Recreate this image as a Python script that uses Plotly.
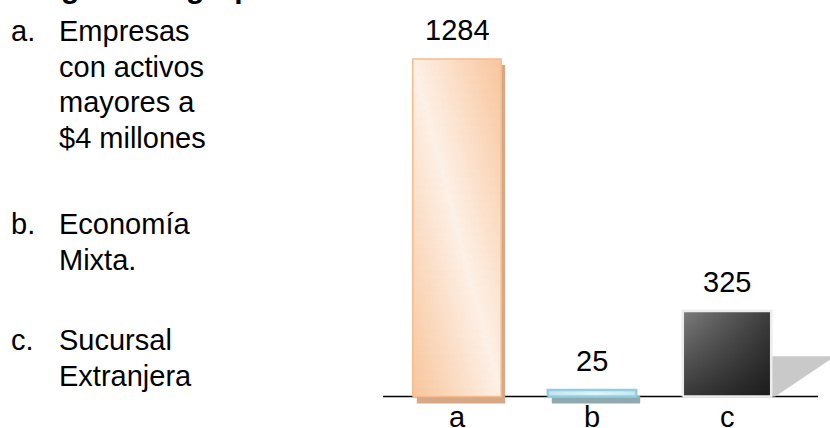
import plotly.graph_objects as go

# ---- data -------------------------------------------------------------
categories = ["a", "b", "c"]
values = [1284, 25, 325]
descriptions = [
    ["Empresas", "con activos", "mayores a", "$4 millones"],
    ["Economía", "Mixta."],
    ["Sucursal", "Extranjera"],
]
title_text = "Categoría de grupo"

# ---- geometry / style -------------------------------------------------
W, H = 830, 428
FONT = "Arial, 'Liberation Sans', Helvetica, sans-serif"
FS = 29

X0_PX = 457          # centre of first category (px from left)
STEP_PX = 135        # spacing between categories (px)
BASE_PX = 396.5      # baseline position (px from top)
TOP_PX = 59          # top of the tallest bar (px from top)
PX_PER_UNIT = (BASE_PX - TOP_PX) / max(values)
BAR_W = 0.655


def dx(px):
    return px / STEP_PX


def dy(px):
    return px / PX_PER_UNIT


def rect(xc, y0, y1, w=BAR_W):
    l, r = xc - w / 2, xc + w / 2
    return [l, r, r, l, l], [y0, y0, y1, y1, y0]


fig = go.Figure()

# drop shadows for bars a and b
shadow_colors = {"a": "#d5a886", "b": "#8fa9b1"}
for i, (cat, v) in enumerate(zip(categories, values)):
    if cat in shadow_colors:
        xs, ys = rect(i + dx(4), -dy(7), v - dy(6))
        fig.add_trace(go.Scatter(x=xs, y=ys, mode="lines", fill="toself",
                                 fillcolor=shadow_colors[cat],
                                 line=dict(width=0), hoverinfo="skip"))

# perspective shadow to the right of bar c
ic = categories.index("c")
vc = values[ic]
rc = ic + BAR_W / 2
fig.add_trace(go.Scatter(
    x=[rc, rc, rc + 0.72 * BAR_W, rc + dx(4), rc],
    y=[0, 0.47 * vc, 0.47 * vc, 0, 0],
    mode="lines", fill="toself", fillcolor="#c9c9c9",
    line=dict(width=0), hoverinfo="skip"))

# bar a: peach body with a pale diagonal sheen, built from thin slices
ia = categories.index("a")
va = values[ia]
n_slices = 40
pale, peach = "#fdf0e6", "#f8c398"
for k in range(n_slices):
    t = (k + 0.5) / n_slices
    y0 = va * k / n_slices
    y1 = min(va, va * (k + 1) / n_slices + dy(1))
    # pale band drifts from right (bottom) to left (top)
    xp = ia - BAR_W / 2 + BAR_W * (1 - t)
    xs, ys = rect(ia, y0, y1)
    fig.add_trace(go.Scatter(
        x=xs, y=ys, mode="lines", fill="toself", line=dict(width=0),
        fillgradient=dict(type="horizontal",
                          colorscale=[[0, peach], [0.5, pale], [1, peach]],
                          start=xp - 1.05 * BAR_W, stop=xp + 1.05 * BAR_W),
        hoverinfo="skip"))
xs, ys = rect(ia, 0, va)
fig.add_trace(go.Scatter(x=xs, y=ys, mode="lines",
                         line=dict(color="#f6bb8e", width=1.5), hoverinfo="skip"))

# bar b: light blue glass
ib = categories.index("b")
vb = values[ib]
xs, ys = rect(ib, 0, vb)
fig.add_trace(go.Scatter(
    x=xs, y=ys, mode="lines", fill="toself",
    fillgradient=dict(type="horizontal",
                      colorscale=[[0, "#c3e4ee"], [0.55, "#e2f3f8"], [1, "#c6e6ef"]],
                      start=ib - BAR_W / 2, stop=ib + BAR_W / 2),
    line=dict(color="#8fcfe0", width=2.5), hoverinfo="skip"))

# bar c: dark graphite, lighter top-left to darker bottom-right
xs, ys = rect(ic, 0, vc)
fig.add_trace(go.Scatter(
    x=xs, y=ys, mode="lines", fill="toself",
    fillgradient=dict(type="horizontal",
                      colorscale=[[0, "#7c7c7c"], [1, "#3c3c3c"]],
                      start=ic - BAR_W / 2, stop=ic + BAR_W / 2),
    line=dict(width=0), hoverinfo="skip"))
fig.add_trace(go.Scatter(
    x=xs, y=ys, mode="lines", fill="toself",
    fillgradient=dict(type="vertical",
                      colorscale=[[0, "rgba(0,0,0,0.55)"], [1, "rgba(0,0,0,0)"]],
                      start=0, stop=vc),
    line=dict(color="#ececec", width=2.5), hoverinfo="skip"))

# baseline
fig.add_shape(type="line", layer="below",
              x0=dx(383 - X0_PX), x1=dx(818 - X0_PX), y0=0, y1=0,
              line=dict(color="black", width=1.5))

annotations = []
# value labels above bars
for i, v in enumerate(values):
    annotations.append(dict(x=i, y=v, xref="x", yref="y", text=str(v),
                            showarrow=False, yanchor="middle", yshift=29,
                            font=dict(size=FS, color="black", family=FONT)))
# category labels under the baseline
for i, cat in enumerate(categories):
    annotations.append(dict(x=i, y=0, xref="x", yref="y", text=cat,
                            showarrow=False, yanchor="middle", yshift=-20,
                            font=dict(size=FS, color="black", family=FONT)))

# explanatory list on the left
block_tops = [31, 224, 340]
LINE_GAP = 35.5
for cat, lines, ytop in zip(categories, descriptions, block_tops):
    annotations.append(dict(x=9 / W, y=1 - ytop / H, xref="paper", yref="paper",
                            text=cat + ".", showarrow=False, xanchor="left",
                            yanchor="middle",
                            font=dict(size=FS, color="black", family=FONT)))
    for j, line in enumerate(lines):
        annotations.append(dict(x=57 / W, y=1 - (ytop + j * LINE_GAP) / H,
                                xref="paper", yref="paper", text=line,
                                showarrow=False, xanchor="left", yanchor="middle",
                                font=dict(size=FS, color="black", family=FONT)))

# heading (runs off the top edge)
annotations.append(dict(x=-6 / W, y=1 - 6 / H, xref="paper", yref="paper",
                        text="<b>" + title_text + "</b>", showarrow=False,
                        xanchor="left", yanchor="bottom",
                        font=dict(size=30, color="black", family=FONT)))

fig.update_layout(
    width=W, height=H,
    margin=dict(l=0, r=0, t=0, b=0),
    paper_bgcolor="white", plot_bgcolor="white",
    showlegend=False,
    xaxis=dict(range=[dx(-X0_PX), dx(W - X0_PX)], visible=False, fixedrange=True),
    yaxis=dict(range=[-dy(H - BASE_PX), dy(BASE_PX)], visible=False, fixedrange=True),
    annotations=annotations,
)

fig.write_html("out.html")
